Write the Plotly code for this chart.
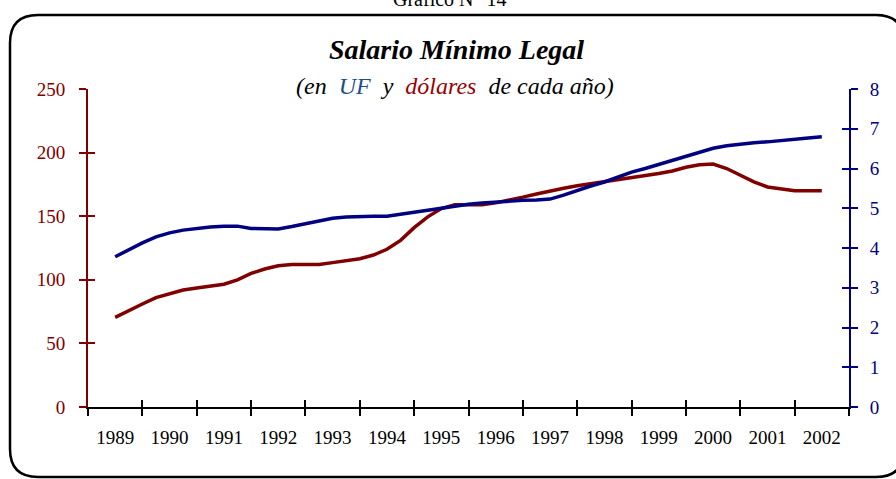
import plotly.graph_objects as go

# ---- data (quarterly) ----
years = [str(y) for y in range(1989, 2003)]
period_start = 1989.5  # first observation sits mid-1989
period_step = 0.25     # quarterly observations

dolares = [70.5, 76, 81, 86, 89, 92, 93.5, 95, 96.5, 100, 105, 108.5, 111, 112,
           112, 112, 113.5, 115, 116.5, 119.5, 124, 131, 141, 149.5, 156, 159,
           159, 159, 160.5, 162.5, 165, 167.5, 170, 172, 174, 175.5, 177.5, 179,
           180.5, 182, 183.5, 185.5, 188.5, 190.5, 191, 187.5, 182.5, 177, 173,
           171.5, 170, 170, 170]

uf = [3.78, 3.96, 4.13, 4.28, 4.38, 4.45, 4.50, 4.53, 4.55, 4.55, 4.49, 4.48,
      4.48, 4.54, 4.61, 4.70, 4.75, 4.78, 4.80, 4.80, 4.80, 4.85, 4.91, 4.96,
      5.01, 5.06, 5.10, 5.13, 5.16, 5.18, 5.20, 5.21, 5.23, 5.33, 5.45, 5.56,
      5.66, 5.78, 5.91, 6.00, 6.10, 6.20, 6.31, 6.41, 6.51, 6.57, 6.62, 6.65,
      6.67, 6.71, 6.74, 6.77, 6.80]

left_ticks = [0, 50, 100, 150, 200, 250]
right_ticks = [0, 1, 2, 3, 4, 5, 6, 7, 8]

x = [period_start + period_step * i for i in range(len(dolares))]
year_vals = [int(y) for y in years]
boundaries = year_vals + [year_vals[-1] + 1]
label_pos = [v + 0.5 for v in year_vals]

RED = "#800000"
NAVY = "#000080"
FONT = "Liberation Serif"

W, H = 896, 479
ML, MR, MT, MB = 88, 47, 89, 72
PW, PH = W - ML - MR, H - MT - MB


def px(xp):
    return (xp - ML) / PW


def py(yp):
    return (H - MB - yp) / PH


fig = go.Figure()
fig.add_trace(go.Scatter(x=x, y=dolares, mode="lines", name="dólares",
                         line=dict(color=RED, width=3.5), xaxis="x", yaxis="y",
                         showlegend=False))
fig.add_trace(go.Scatter(x=x, y=uf, mode="lines", name="UF",
                         line=dict(color=NAVY, width=3.5), xaxis="x", yaxis="y2",
                         showlegend=False))
# empty traces so that the helper (overlay) axes are rendered
for xa, ya in [("x2", "y"), ("x3", "y"), ("x", "y3"), ("x", "y4")]:
    fig.add_trace(go.Scatter(x=[], y=[], mode="lines", xaxis=xa, yaxis=ya,
                             showlegend=False, hoverinfo="skip"))

xr = [boundaries[0], boundaries[-1]]
common_x = dict(range=xr, showgrid=False, zeroline=False, fixedrange=True)

layout = dict(
    width=W, height=H,
    margin=dict(l=ML, r=MR, t=MT, b=MB, pad=0),
    paper_bgcolor="white", plot_bgcolor="white",
    showlegend=False,
    xaxis=dict(**common_x, anchor="y", tickmode="array", tickvals=boundaries,
               ticks="outside", ticklen=7, tickwidth=2, tickcolor="black",
               showticklabels=False, showline=True, linecolor="black", linewidth=2),
    xaxis2=dict(**common_x, anchor="y", overlaying="x", tickmode="array",
                tickvals=boundaries, ticks="inside", ticklen=7, tickwidth=2,
                tickcolor="black", showticklabels=False, showline=False),
    xaxis3=dict(**common_x, anchor="y", overlaying="x", tickmode="array",
                tickvals=label_pos, ticktext=years, ticks="", showline=False,
                tickfont=dict(family=FONT, size=19, color="black"),
                ticklabelstandoff=17),
    yaxis=dict(range=[0, 250], tickmode="array", tickvals=left_ticks,
               ticks="outside", ticklen=7, tickwidth=2, tickcolor=RED,
               showline=True, linecolor=RED, linewidth=2, showgrid=False,
               zeroline=False, tickfont=dict(family=FONT, size=19, color=RED),
               ticklabelstandoff=10, anchor="x", fixedrange=True),
    yaxis3=dict(range=[0, 250], overlaying="y", side="left", tickmode="array",
                tickvals=left_ticks, ticks="inside", ticklen=7, tickwidth=2,
                tickcolor=RED, showline=False, showgrid=False, zeroline=False,
                showticklabels=False, anchor="x", fixedrange=True),
    yaxis2=dict(range=[0, 8], overlaying="y", side="right", tickmode="array",
                tickvals=right_ticks, ticks="outside", ticklen=7, tickwidth=2,
                tickcolor=NAVY, showline=True, linecolor=NAVY, linewidth=2,
                showgrid=False, zeroline=False,
                tickfont=dict(family=FONT, size=19, color=NAVY),
                ticklabelstandoff=8, anchor="x", fixedrange=True),
    yaxis4=dict(range=[0, 8], overlaying="y", side="right", tickmode="array",
                tickvals=right_ticks, ticks="inside", ticklen=7, tickwidth=2,
                tickcolor=NAVY, showline=False, showgrid=False, zeroline=False,
                showticklabels=False, anchor="x", fixedrange=True),
)
fig.update_layout(**layout)

# rounded frame
L, R, T, B, r = 10, 904, 15, 477, 28
path = (f"M {px(L + r)} {py(T)} L {px(R - r)} {py(T)} Q {px(R)} {py(T)} {px(R)} {py(T + r)} "
        f"L {px(R)} {py(B - r)} Q {px(R)} {py(B)} {px(R - r)} {py(B)} "
        f"L {px(L + r)} {py(B)} Q {px(L)} {py(B)} {px(L)} {py(B - r)} "
        f"L {px(L)} {py(T + r)} Q {px(L)} {py(T)} {px(L + r)} {py(T)} Z")
fig.add_shape(type="path", path=path, xref="paper", yref="paper",
              line=dict(color="black", width=2.5), layer="below")

sp = "\u00a0"
fig.add_annotation(text="Gráfico N° 14", xref="paper", yref="paper",
                   x=px(450), y=py(-1), xanchor="center", yanchor="middle",
                   showarrow=False, font=dict(family=FONT, size=20, color="black"))
fig.add_annotation(text="<b><i>Salario Mínimo Legal</i></b>", xref="paper", yref="paper",
                   x=px(456), y=py(49), xanchor="center", yanchor="middle",
                   showarrow=False, font=dict(family=FONT, size=28, color="black"))
fig.add_annotation(
    text=(f"<i>(en{sp}{sp}<span style='color:#1F4E8C'>UF</span>{sp}{sp}y{sp}{sp}"
          f"<span style='color:#990000'>dólares</span>{sp}{sp}de cada año)</i>"),
    xref="paper", yref="paper", x=px(455), y=py(86), xanchor="center",
    yanchor="middle", showarrow=False,
    font=dict(family=FONT, size=24, color="black"))

fig.write_html("out.html", config={"displayModeBar": False},
               post_script="document.body.style.margin='0px';")
